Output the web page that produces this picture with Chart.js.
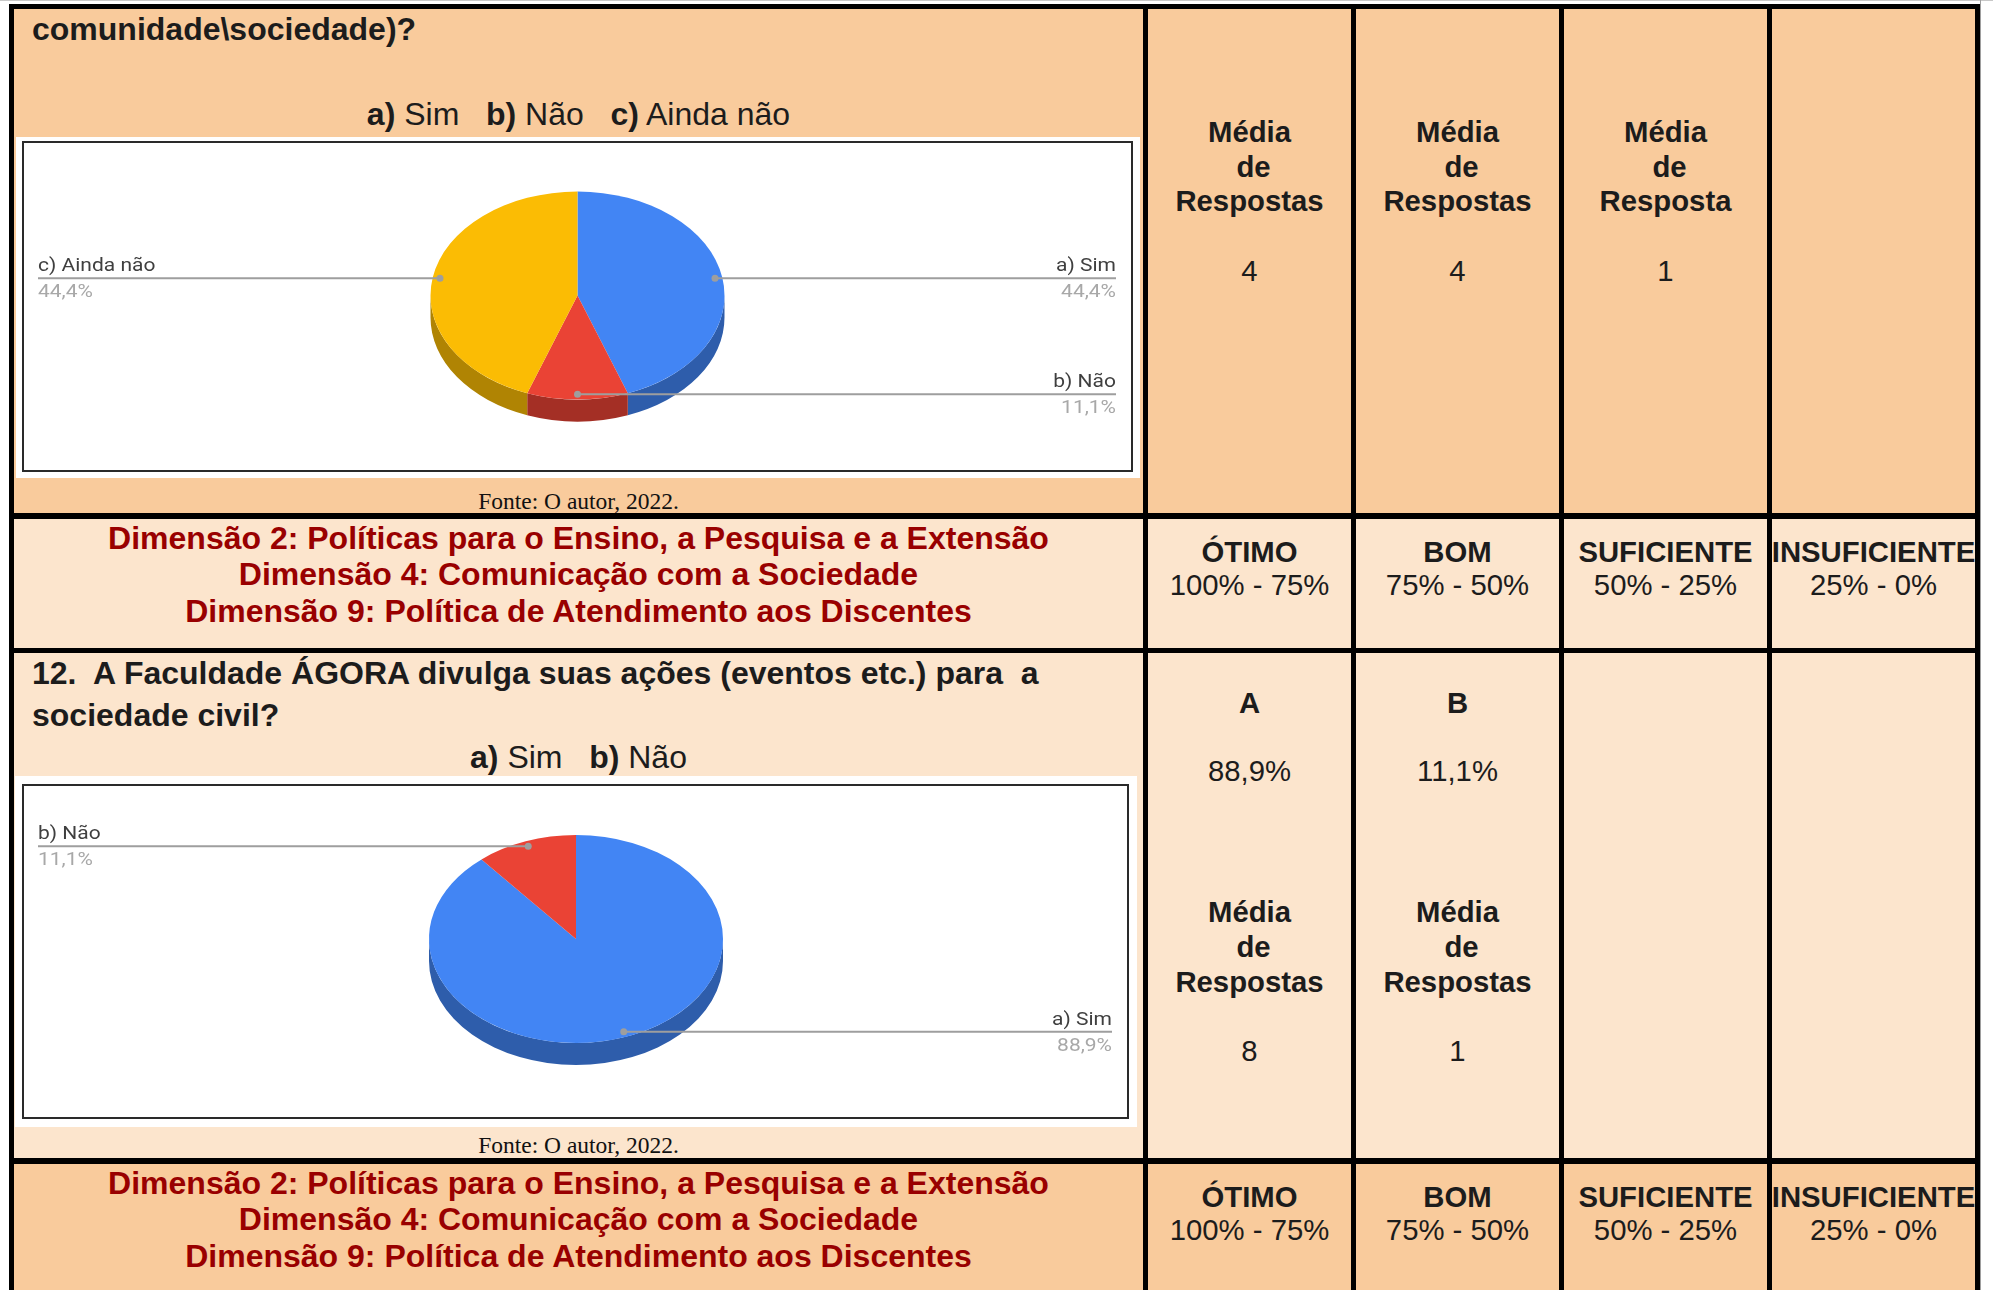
<!DOCTYPE html>
<html lang="pt-BR">
<head>
<meta charset="utf-8">
<title>Comunicação com a Sociedade — questões 11 e 12</title>
<script src="https://cdn.jsdelivr.net/npm/chart.js@4.4.1/dist/chart.umd.min.js"></script>
<style>
  html, body { margin: 0; padding: 0; background: #fff; }
  #page { position: relative; width: 1993px; height: 1290px; overflow: hidden; background: #fff;
          font-family: "Liberation Sans", Arial, sans-serif; }
  .abs { position: absolute; box-sizing: border-box; }
  .t { position: absolute; white-space: pre; }
  canvas { position: absolute; }
</style>
</head>
<body>
<div id="page"></div>
<script>
// ---------- data ----------
const q11Tail = 'comunidade\\sociedade)?';
const q11Labels = ['a) Sim', 'b) Não', 'c) Ainda não'];
const q11Values = [4, 1, 4];
const q11Heads = ['Média\n de\nRespostas', 'Média\n de\nRespostas', 'Média\n de\nResposta'];
const q11Counts = [4, 4, 1];

const q12Question = ['12.  A Faculdade ÁGORA divulga suas ações (eventos etc.) para  a', 'sociedade civil?'];
const q12Labels = ['a) Sim', 'b) Não'];
const q12Values = [8, 1];
const q12Letters = ['A', 'B'];

const ratingNames = ['ÓTIMO', 'BOM', 'SUFICIENTE', 'INSUFICIENTE'];
const ratingRanges = ['100% - 75%', '75% - 50%', '50% - 25%', '25% - 0%'];
const dimensionLines = [
  'Dimensão 2: Políticas para o Ensino, a Pesquisa e a Extensão',
  'Dimensão 4: Comunicação com a Sociedade',
  'Dimensão 9: Política de Atendimento aos Discentes'
];
const sourceNote = 'Fonte: O autor, 2022.';

// ---------- styling ----------
const PEACH = '#F9CB9C', PEACH_LIGHT = '#FCE5CD', DARK_RED = '#990000', INK = '#1c1c1c';
const SLICE_TOP = ['#4285F4', '#EA4335', '#FBBC04'];
const SLICE_SIDE = ['#2E5DAB', '#A42F25', '#B08403'];
const colX = [1143, 1351, 1559, 1767, 1975];          // inner / right column rules
const colCenter = [1249.5, 1457.5, 1665.5, 1873.5];
const LEFT_CENTER = 578.5;

const page = document.getElementById('page');

function rect(x, y, w, h, css) {
  const d = document.createElement('div');
  d.className = 'abs';
  Object.assign(d.style, { left: x + 'px', top: y + 'px', width: w + 'px', height: h + 'px' }, css || {});
  page.appendChild(d);
  return d;
}

function text(html, x, cy, o) {
  const lh = Math.round(o.size * 1.25);
  const d = document.createElement('div');
  d.className = 't';
  d.style.top = (cy - lh / 2) + 'px';
  d.style.height = lh + 'px';
  d.style.lineHeight = lh + 'px';
  d.style.fontSize = o.size + 'px';
  d.style.fontWeight = o.bold ? '700' : '400';
  d.style.color = o.color || INK;
  if (o.family) d.style.fontFamily = o.family;
  if (o.align === 'left') {
    d.style.left = x + 'px';
  } else {
    d.style.left = (x - 500) + 'px';
    d.style.width = '1000px';
    d.style.textAlign = 'center';
  }
  d.innerHTML = html;
  page.appendChild(d);
}

const esc = s => s.replace(/&/g, '&amp;').replace(/</g, '&lt;');
const pct = (v, arr) => (v / arr.reduce((a, b) => a + b, 0) * 100).toFixed(1).replace('.', ',') + '%';
const optionLine = labels => labels.map(l => {
  const k = l.indexOf(')') + 1;
  return '<b>' + esc(l.slice(0, k)) + '</b>' + esc(l.slice(k));
}).join('   ');

// ---------- table cells ----------
rect(0, 0, 1993, 1, { background: '#c8c8c8' });
rect(14, 9, 1961, 504, { background: PEACH });
rect(14, 519, 1961, 129, { background: PEACH_LIGHT });
rect(14, 653, 1961, 505, { background: PEACH_LIGHT });
rect(14, 1164, 1961, 130, { background: PEACH });

// ---------- row 1: end of question 11 ----------
text(esc(q11Tail), 32, 29, { size: 32, bold: true, align: 'left' });
text(optionLine(q11Labels), LEFT_CENTER, 114, { size: 32 });
rect(16, 137, 1124, 341, { background: '#fff' });
rect(22, 141, 1111, 331, { border: '2px solid #2a2a2a', background: '#fff' });
text(esc(sourceNote), LEFT_CENTER, 501, { size: 23.5, family: '"Liberation Serif", "Times New Roman", serif', color: '#111' });

q11Heads.forEach((h, i) => {
  const lines = h.split('\n');
  [131, 166, 200.5].forEach((cy, j) => text(esc(lines[j]), colCenter[i], cy, { size: 29.3, bold: true }));
  text(String(q11Counts[i]), colCenter[i], 270.5, { size: 29.3 });
});

// ---------- rows 2 and 4: dimensions and rating scale ----------
function dimensionRow(top) {
  dimensionLines.forEach((l, j) => text(esc(l), LEFT_CENTER, top + 18.5 + j * 36.5, { size: 32, bold: true, color: DARK_RED }));
  ratingNames.forEach((n, i) => {
    text(esc(n), colCenter[i], top + 32.5, { size: 29.3, bold: true });
    text(esc(ratingRanges[i]), colCenter[i], top + 65.5, { size: 29.3 });
  });
}
dimensionRow(519);
dimensionRow(1164);

// ---------- row 3: question 12 ----------
text(esc(q12Question[0]), 32, 673, { size: 32, bold: true, align: 'left' });
text(esc(q12Question[1]), 32, 715, { size: 32, bold: true, align: 'left' });
text(optionLine(q12Labels), LEFT_CENTER, 757, { size: 32 });
rect(15, 776, 1122, 351, { background: '#fff' });
rect(22, 784, 1107, 335, { border: '2px solid #2a2a2a', background: '#fff' });
text(esc(sourceNote), LEFT_CENTER, 1145, { size: 23.5, family: '"Liberation Serif", "Times New Roman", serif', color: '#111' });

q12Values.forEach((v, i) => {
  text(esc(q12Letters[i]), colCenter[i], 702.5, { size: 29.3, bold: true });
  text(pct(v, q12Values), colCenter[i], 770.5, { size: 29.3 });
  ['Média', ' de', 'Respostas'].forEach((l, j) => text(l, colCenter[i], [911.5, 946.5, 981][j], { size: 29.3, bold: true }));
  text(String(v), colCenter[i], 1050.5, { size: 29.3 });
});

// ---------- black rules ----------
[9, ...colX].forEach(x => rect(x, 4, 5, 1290, { background: '#000' }));
rect(1980, 0, 1, 1290, { background: '#9e9e9e' });
[[4, 5], [513, 6], [648, 5], [1158, 6]].forEach(([y, h]) => rect(9, y, 1971, h, { background: '#000' }));

// ---------- 3D pie charts ----------
const TILT = 0.707, DEPTH = 22;

// Draws the extruded rim of the front half, then squashes the top face into an ellipse.
const pie3d = {
  id: 'pie3d',
  beforeDatasetsDraw(chart, args, o) {
    const ctx = chart.ctx;
    const arcs = chart.getDatasetMeta(0).data;
    ctx.save();
    arcs.forEach((arc, i) => {
      const p = arc.getProps(['x', 'y', 'startAngle', 'endAngle', 'outerRadius'], true);
      const a0 = Math.max(p.startAngle, 0), a1 = Math.min(p.endAngle, Math.PI);
      if (a1 <= a0) return;
      ctx.beginPath();
      ctx.ellipse(p.x, p.y, p.outerRadius, p.outerRadius * o.tilt, 0, a0, a1, false);
      ctx.ellipse(p.x, p.y + o.depth, p.outerRadius, p.outerRadius * o.tilt, 0, a1, a0, true);
      ctx.closePath();
      ctx.fillStyle = o.sideColors[i];
      ctx.fill();
    });
    ctx.restore();
    const c = arcs[0];
    ctx.save();
    ctx.translate(c.x, c.y);
    ctx.scale(1, o.tilt);
    ctx.translate(-c.x, -c.y);
  },
  afterDatasetsDraw(chart) {
    chart.ctx.restore();
  }
};

function drawLabel(ctx, s, x, y, align, color, o) {
  ctx.save();
  ctx.translate(x, y);
  ctx.scale(o.stretch, 1);
  ctx.font = o.font;
  ctx.fillStyle = color;
  ctx.textAlign = align;
  ctx.textBaseline = 'alphabetic';
  ctx.fillText(s, 0, 0);
  ctx.restore();
}

// Leader lines with a name above and the share below, running to the chart's edge.
const callouts = {
  id: 'callouts',
  afterDraw(chart, args, o) {
    const ctx = chart.ctx;
    const data = chart.data.datasets[0].data;
    chart.getDatasetMeta(0).data.forEach((arc, i) => {
      const p = arc.getProps(['x', 'y', 'startAngle', 'endAngle', 'outerRadius'], true);
      const mid = (p.startAngle + p.endAngle) / 2;
      const px = p.x + p.outerRadius * o.anchor * Math.cos(mid);
      const py = p.y + p.outerRadius * o.anchor * o.tilt * Math.sin(mid);
      const left = Math.cos(mid) < -1e-9;
      const edge = left ? o.insetLeft : chart.width - o.insetRight;
      ctx.save();
      ctx.strokeStyle = o.lineColor;
      ctx.lineWidth = 2;
      ctx.beginPath();
      ctx.moveTo(edge, py);
      ctx.lineTo(px, py);
      ctx.stroke();
      ctx.fillStyle = o.lineColor;
      ctx.beginPath();
      ctx.arc(px, py, 3.5, 0, Math.PI * 2);
      ctx.fill();
      ctx.restore();
      const align = left ? 'left' : 'right';
      drawLabel(ctx, chart.data.labels[i], edge, py - 7, align, o.nameColor, o);
      drawLabel(ctx, pct(data[i], data), edge, py + 19, align, o.pctColor, o);
    });
  }
};

function makePie(box, centre, radius, labels, values) {
  const cv = document.createElement('canvas');
  cv.width = box.w; cv.height = box.h;
  Object.assign(cv.style, { left: box.x + 'px', top: box.y + 'px', width: box.w + 'px', height: box.h + 'px' });
  page.appendChild(cv);
  const cx = centre.x - box.x, cy = centre.y - box.y;
  new Chart(cv, {
    type: 'pie',
    data: {
      labels: labels,
      datasets: [{ data: values, backgroundColor: SLICE_TOP.slice(0, values.length), borderWidth: 0, hoverOffset: 0, offset: 0 }]
    },
    options: {
      responsive: false,
      animation: false,
      events: [],
      layout: { padding: { left: cx - radius, right: box.w - cx - radius, top: cy - radius, bottom: box.h - cy - radius } },
      plugins: {
        legend: { display: false },
        tooltip: { enabled: false },
        pie3d: { tilt: TILT, depth: DEPTH, sideColors: SLICE_SIDE },
        callouts: {
          tilt: TILT, anchor: 0.95, insetLeft: 16, insetRight: 17,
          lineColor: '#9e9e9e', nameColor: '#3f3f3f', pctColor: '#a8a8a8',
          font: '17.5px Roboto, "Liberation Sans", sans-serif', stretch: 1.2
        }
      }
    },
    plugins: [pie3d, callouts]
  });
}

makePie({ x: 22, y: 141, w: 1111, h: 331 }, { x: 577.5, y: 295.5 }, 147, q11Labels, q11Values);
makePie({ x: 22, y: 784, w: 1107, h: 335 }, { x: 576, y: 939 }, 147, q12Labels, q12Values);
</script>
</body>
</html>
